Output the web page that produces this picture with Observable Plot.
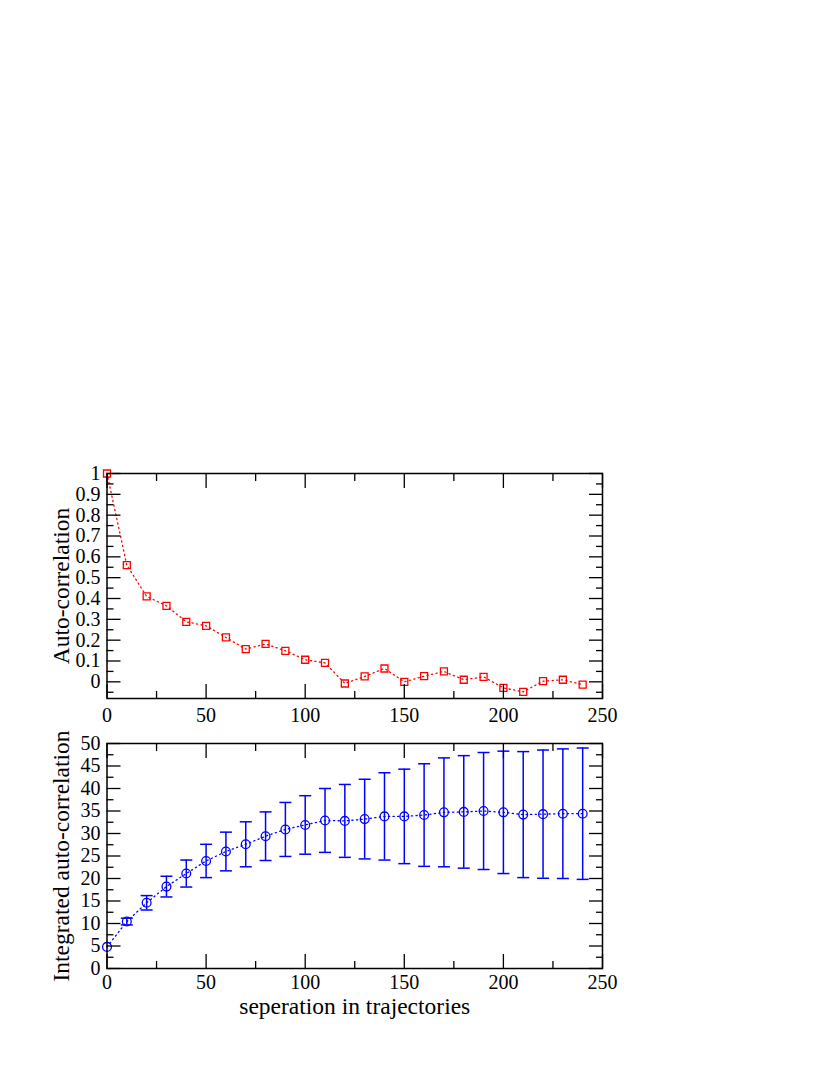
<!DOCTYPE html>
<html>
<head>
<meta charset="utf-8">
<script src="https://cdn.jsdelivr.net/npm/d3@7"></script>
<script src="https://cdn.jsdelivr.net/npm/@observablehq/plot@0.6"></script>
<style>
  html, body { margin: 0; padding: 0; background: white; }
  #wrap { position: relative; width: 830px; height: 1075px; }
  #wrap svg { position: absolute; left: 0; }
</style>
</head>
<body>
<div id="wrap"></div>
<script>
// ---- data ----
const lags = [0,10,20,30,40,50,60,70,80,90,100,110,120,130,140,150,160,170,180,190,200,210,220,230,240];
const autocorr = [1.0,0.56,0.41,0.365,0.288,0.269,0.213,0.157,0.182,0.149,0.106,0.091,-0.008,0.026,0.064,0.0,0.027,0.05,0.01,0.024,-0.029,-0.048,0.003,0.01,-0.013];
const integrated = [4.8,10.44,14.6,18.2,21.1,23.9,26.0,27.6,29.4,30.9,31.9,32.9,32.8,33.2,33.8,33.8,34.1,34.7,34.8,35.0,34.7,34.2,34.3,34.4,34.4];
const integratedErr = [0,0.75,1.6,2.3,3.0,3.7,4.3,5.0,5.4,6.0,6.5,7.1,8.1,8.85,9.7,10.5,11.4,12.1,12.5,13.0,13.6,14.0,14.25,14.4,14.6];
const xMajor = [0,50,100,150,200,250];
const xMinor = [25,75,125,175,225];
const y1Major = [0,0.1,0.2,0.3,0.4,0.5,0.6,0.7,0.8,0.9,1];
const y1Minor = [-0.05,0.05,0.15,0.25,0.35,0.45,0.55,0.65,0.75,0.85,0.95];
const y2Major = [0,5,10,15,20,25,30,35,40,45,50];
const y2Minor = [2.5,7.5,12.5,17.5,22.5,27.5,32.5,37.5,42.5,47.5];
const yLabel1 = "Auto-correlation";
const yLabel2 = "Integrated auto-correlation";
const xLabel = "seperation in trajectories";

const top1 = lags.map((x, i) => ({x, y: autocorr[i]}));
const bot = lags.map((x, i) => ({x, y: integrated[i], e: integratedErr[i]}));
const botErr = bot.filter(d => d.e > 0);

const FONT = "Liberation Serif";
const TICKFS = 20;
const LABELFS = 23.5;
const fmt = d => String(+(+d).toFixed(2));
const blank = () => "";

function frameAxes(yMajor, yMinor, xPad) {
  return [
    Plot.axisX(xMajor, {anchor: "bottom", tickSize: -14, tickPadding: xPad, tickFormat: fmt, fontSize: TICKFS, strokeWidth: 1.3, label: null}),
    Plot.axisX(xMinor, {anchor: "bottom", tickSize: -7, tickFormat: blank, strokeWidth: 1.3, label: null}),
    Plot.axisX(xMajor, {anchor: "top", tickSize: -14, tickFormat: blank, strokeWidth: 1.3, label: null}),
    Plot.axisX(xMinor, {anchor: "top", tickSize: -7, tickFormat: blank, strokeWidth: 1.3, label: null}),
    Plot.axisY(yMajor, {anchor: "left", tickSize: -14, tickPadding: 20.5, tickFormat: fmt, fontSize: TICKFS, strokeWidth: 1.3, label: null}),
    Plot.axisY(yMinor, {anchor: "left", tickSize: -7, tickFormat: blank, strokeWidth: 1.3, label: null}),
    Plot.axisY(yMajor, {anchor: "right", tickSize: -14, tickFormat: blank, strokeWidth: 1.3, label: null}),
    Plot.axisY(yMinor, {anchor: "right", tickSize: -7, tickFormat: blank, strokeWidth: 1.3, label: null}),
    Plot.frame({stroke: "black", strokeWidth: 1.5})
  ];
}

const capSymbol = {
  draw(context) {
    context.moveTo(-6, 0);
    context.lineTo(6, 0);
  }
};

const chart1 = Plot.plot({
  width: 830,
  height: 265,
  marginLeft: 106.5,
  marginRight: 228,
  marginTop: 10,
  marginBottom: 30,
  style: {fontFamily: FONT, fontSize: TICKFS + "px", background: "white", overflow: "visible"},
  x: {domain: [0, 250], axis: null},
  y: {domain: [-0.08, 1], axis: null},
  marks: [
    Plot.line(top1, {x: "x", y: "y", stroke: "#ff0000", strokeWidth: 1.3, strokeDasharray: "1.2,3.4"}),
    Plot.dot(top1, {x: "x", y: "y", symbol: "square", r: 3.95, stroke: "#ff0000", strokeWidth: 1.3, fill: "none"}),
    ...frameAxes(y1Major, y1Minor, 23),
    Plot.text([yLabel1], {text: d => d, frameAnchor: "left", textAnchor: "middle", lineAnchor: "middle", rotate: -90, dx: -46, fontSize: LABELFS, fill: "black"})
  ]
});

const chart2 = Plot.plot({
  width: 830,
  height: 300,
  marginLeft: 106.5,
  marginRight: 228,
  marginTop: 10,
  marginBottom: 65,
  style: {fontFamily: FONT, fontSize: TICKFS + "px", background: "white", overflow: "visible"},
  x: {domain: [0, 250], axis: null},
  y: {domain: [0, 50], axis: null},
  marks: [
    Plot.ruleX(botErr, {x: "x", y1: d => d.y - d.e, y2: d => d.y + d.e, stroke: "#0000ff", strokeWidth: 1.5}),
    Plot.dot(botErr, {x: "x", y: d => d.y + d.e, symbol: capSymbol, stroke: "#0000ff", strokeWidth: 1.5, fill: "none"}),
    Plot.dot(botErr, {x: "x", y: d => d.y - d.e, symbol: capSymbol, stroke: "#0000ff", strokeWidth: 1.5, fill: "none"}),
    Plot.line(bot, {x: "x", y: "y", stroke: "#0000ff", strokeWidth: 1.3, strokeDasharray: "1.2,3.4"}),
    Plot.dot(bot, {x: "x", y: "y", r: 4.4, stroke: "#0000ff", strokeWidth: 1.3, fill: "none"}),
    ...frameAxes(y2Major, y2Minor, 20.5),
    Plot.text([yLabel2], {text: d => d, frameAnchor: "left", textAnchor: "middle", lineAnchor: "middle", rotate: -90, dx: -46, fontSize: LABELFS, fill: "black"}),
    Plot.text([xLabel], {text: d => d, frameAnchor: "bottom", textAnchor: "middle", lineAnchor: "middle", dy: 38, fontSize: LABELFS, fill: "black"})
  ]
});

chart1.style.top = "462.7px";
chart2.style.top = "732.7px";
const wrap = document.getElementById("wrap");
wrap.appendChild(chart1);
wrap.appendChild(chart2);
</script>
</body>
</html>
